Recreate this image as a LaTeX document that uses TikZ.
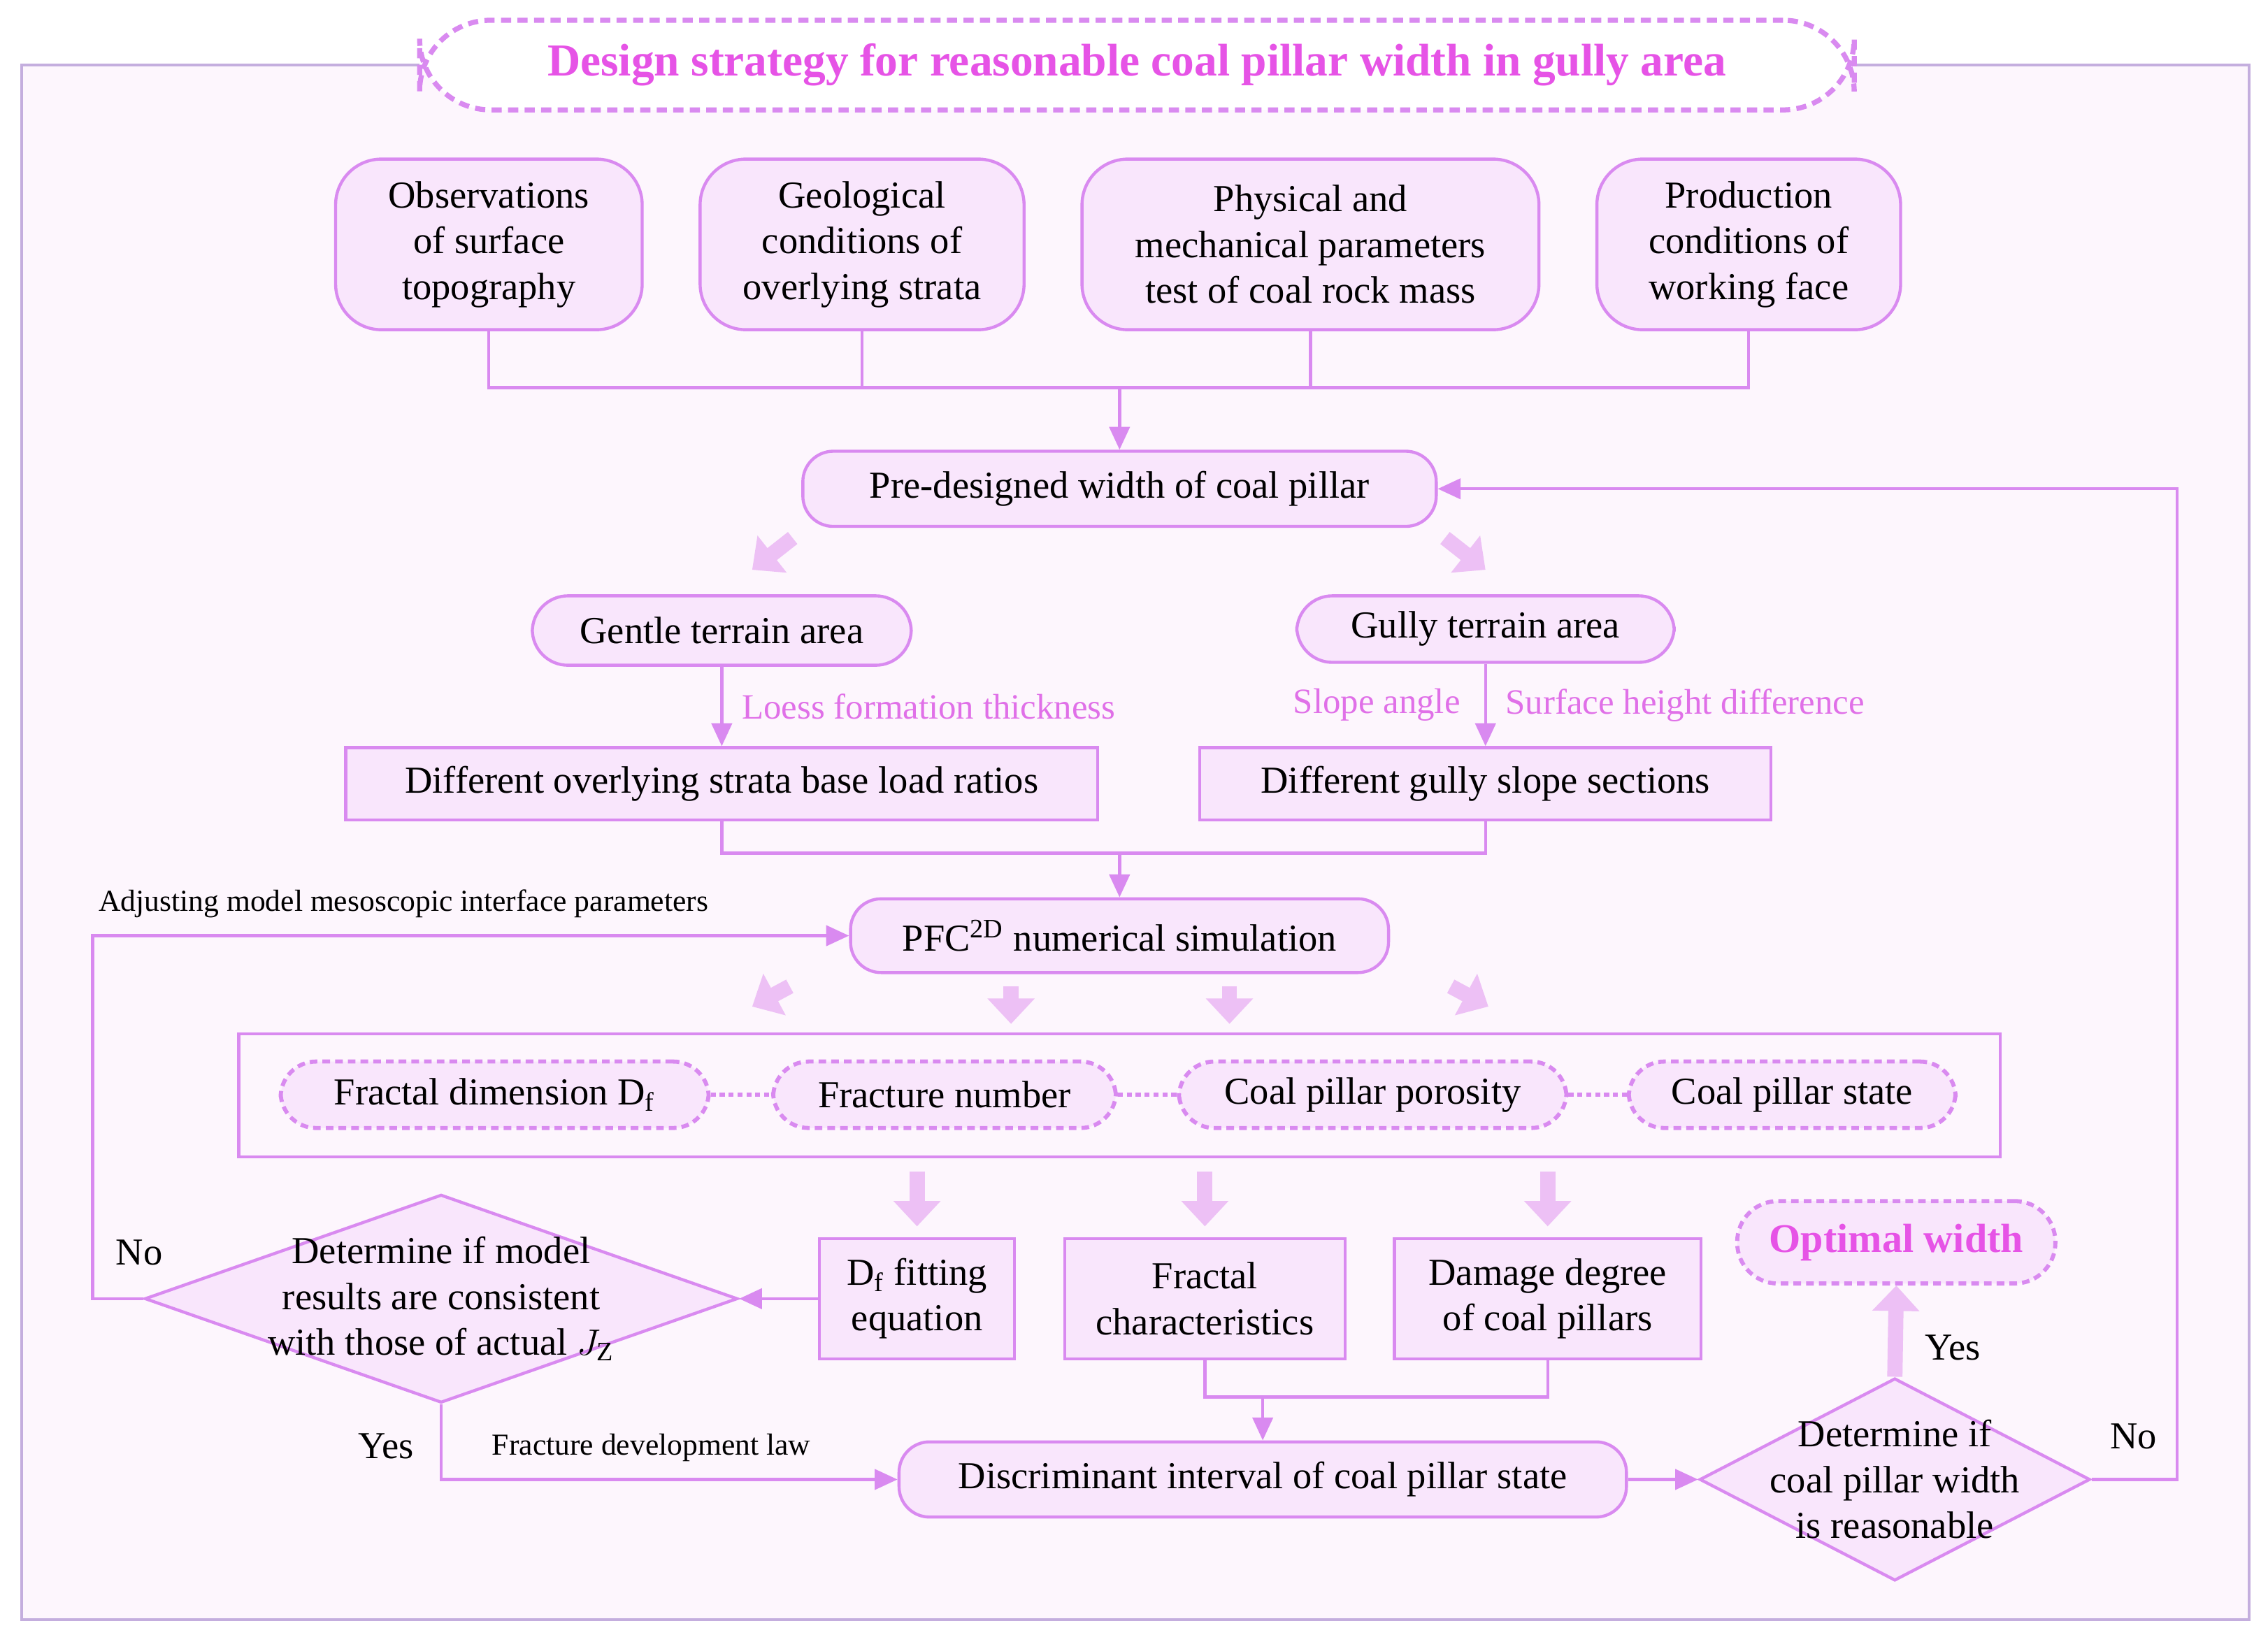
\documentclass[tikz,border=0pt]{standalone}
\usepackage{fontspec}
\setmainfont{Liberation Serif}
\usetikzlibrary{shapes.geometric,arrows.meta,calc}
\definecolor{edge}{HTML}{D98AF0}
\definecolor{boxfill}{HTML}{F9E6FC}
\definecolor{fatc}{HTML}{EDC0F5}
\definecolor{pinktext}{HTML}{E070E8}
\definecolor{titletext}{HTML}{E653E6}
\definecolor{bgc}{HTML}{FDF6FD}
\definecolor{framec}{HTML}{C4AEDE}
\tikzset{
  box/.style={draw=edge,fill=boxfill,line width=1.2pt,align=center,inner sep=2pt},
  rbox/.style={box,rounded corners=18pt},
  pill/.style={box,rounded corners=12pt},
  dpill/.style={box,rounded corners=14pt,dashed,dash pattern=on 3pt off 2pt,line width=1.6pt},
  dec/.style={box,diamond,aspect=2.85,inner sep=0pt},
  line/.style={draw=edge,line width=1.2pt},
  arr/.style={line,-{Triangle[length=9pt,width=8pt]}},
  fat/.style={draw=fatc,line width=6pt,-{Triangle[length=10pt,width=18pt]}},
  lab/.style={text=pinktext,font=\fontsize{14}{16}\selectfont},
  note/.style={font=\fontsize{12}{14}\selectfont}
}
\begin{document}
\begin{tikzpicture}[x=0.02cm,y=-0.02cm,font=\fontsize{15}{18}\selectfont]
\useasboundingbox (0,0) rectangle (1568,1135);
\draw[framec,fill=bgc,line width=1.2pt] (15,45) rectangle (1555,1120);
% title
\node[draw=edge,fill=white,dashed,dash pattern=on 4pt off 2.5pt,line width=2pt,rounded corners=28pt,
  minimum width=19.84cm,minimum height=1.24cm,text=titletext,font=\fontsize{18}{20}\selectfont\bfseries] (title) at (786,45) {Design strategy for reasonable coal pillar width in gully area};
% inputs
\node[rbox,minimum width=4.24cm,minimum height=2.36cm] (obs) at (338,169) {Observations\\of surface\\topography};
\node[rbox,minimum width=4.48cm,minimum height=2.36cm] (geo) at (596,169) {Geological\\conditions of\\overlying strata};
\node[rbox,minimum width=6.32cm,minimum height=2.36cm] (phy) at (906,169) {Physical and\\mechanical parameters\\test of coal rock mass};
\node[rbox,minimum width=4.2cm,minimum height=2.36cm] (prod) at (1209,169) {Production\\conditions of\\working face};
\node[pill,minimum width=8.76cm,minimum height=1.04cm] (pre) at (774,338) {Pre-designed width of coal pillar};
\node[pill,minimum width=5.24cm,minimum height=0.96cm,rounded corners=14pt] (gentle) at (499,436) {Gentle terrain area};
\node[pill,minimum width=5.22cm,minimum height=0.92cm,rounded corners=14pt] (gully) at (1027,435) {Gully terrain area};
\node[box,minimum width=10.4cm,minimum height=1cm] (load) at (499,542) {Different overlying strata base load ratios};
\node[box,minimum width=7.9cm,minimum height=1cm] (slope) at (1027,542) {Different gully slope sections};
\node[pill,minimum width=7.44cm,minimum height=1.02cm] (pfc) at (774,647) {PFC$^{\mathrm{2D}}$ numerical simulation};
\draw[line] (165,715) rectangle (1383,800);
\node[dpill,minimum width=5.92cm,minimum height=0.92cm] (fd) at (342,757) {Fractal dimension D$_{\mathrm{f}}$};
\node[dpill,minimum width=4.74cm,minimum height=0.92cm] (fn) at (653,757) {Fracture number};
\node[dpill,minimum width=5.36cm,minimum height=0.92cm] (por) at (949,757) {Coal pillar porosity};
\node[dpill,minimum width=4.52cm,minimum height=0.92cm] (st) at (1239,757) {Coal pillar state};
\node[box,minimum width=2.7cm,minimum height=1.66cm] (fit) at (634,898) {D$_{\mathrm{f}}$ fitting\\equation};
\node[box,minimum width=3.88cm,minimum height=1.66cm] (frc) at (833,898) {Fractal\\characteristics};
\node[box,minimum width=4.24cm,minimum height=1.66cm] (dmg) at (1070,898) {Damage degree\\of coal pillars};
\node[dec,minimum width=8.2cm,minimum height=2.88cm] (chk) at (305,898) {};
\node[align=center] at (305,898) {Determine if model\\results are consistent\\with those of actual $J_{\mathrm{Z}}$};
\node[pill,minimum width=10.06cm,minimum height=1.04cm] (disc) at (873,1023) {Discriminant interval of coal pillar state};
\node[dec,minimum width=5.4cm,minimum height=2.8cm,aspect=1.9] (rsn) at (1310,1023) {};
\node[align=center] at (1310,1023) {Determine if\\coal pillar width\\is reasonable};
\node[dpill,minimum width=4.4cm,minimum height=1.14cm,rounded corners=16pt,text=titletext,font=\fontsize{16}{18}\selectfont\bfseries] (opt) at (1311,859) {Optimal width};
% connectors
\draw[line] (obs.south) |- (1209,268) -- (prod.south);
\draw[line] (geo.south) -- ++(0,39);
\draw[line] (phy.south) -- ++(0,39);
\draw[arr] (774,268) -- (pre.north);
\draw[fat] (548,372) -- (520,394);
\draw[fat] (999,372) -- (1027,394);
\draw[arr] (gentle.south) -- (load.north) node[lab,midway,right=4pt] {Loess formation thickness};
\draw[arr] (gully.south) -- (slope.north) node[lab,midway,left=6pt] {Slope angle} node[lab,midway,right=4pt] {Surface height difference};
\draw[line] (load.south) |- (774,590);
\draw[line] (slope.south) |- (774,590);
\draw[arr] (774,590) -- (pfc.north);
\draw[fat] (546,682) -- (520,696);
\draw[fat] (699,682) -- (699,708);
\draw[fat] (850,682) -- (850,708);
\draw[fat] (1003,682) -- (1029,696);
\draw[line,dashed,dash pattern=on 2pt off 1.5pt,line width=1.6pt] (fd) -- (fn) (fn) -- (por) (por) -- (st);
\draw[fat] (634,810) -- (634,848);
\draw[fat] (833,810) -- (833,848);
\draw[fat] (1070,810) -- (1070,848);
\draw[arr] (fit.west) -- (chk.east);
\draw[arr] (chk.west) -- (64,898) |- (pfc.west);
\node[anchor=west] at (74,866) {No};
\node[note,anchor=west] at (62,625) {Adjusting model mesoscopic interface parameters};
\draw[arr] (chk.south) |- (disc.west);
\node at (267,1000) {Yes};
\node[note,anchor=west] at (334,1001) {Fracture development law};
\draw[line] (frc.south) |- (1070,966) -- (dmg.south);
\draw[arr] (873,966) -- (disc.north);
\draw[arr] (disc.east) -- (rsn.west);
\draw[arr] (rsn.east) -- (1505,1023) |- (pre.east);
\node at (1475,993) {No};
\draw[fat] (rsn.north) -- (opt.south);
\node at (1350,932) {Yes};
\end{tikzpicture}
\end{document}
